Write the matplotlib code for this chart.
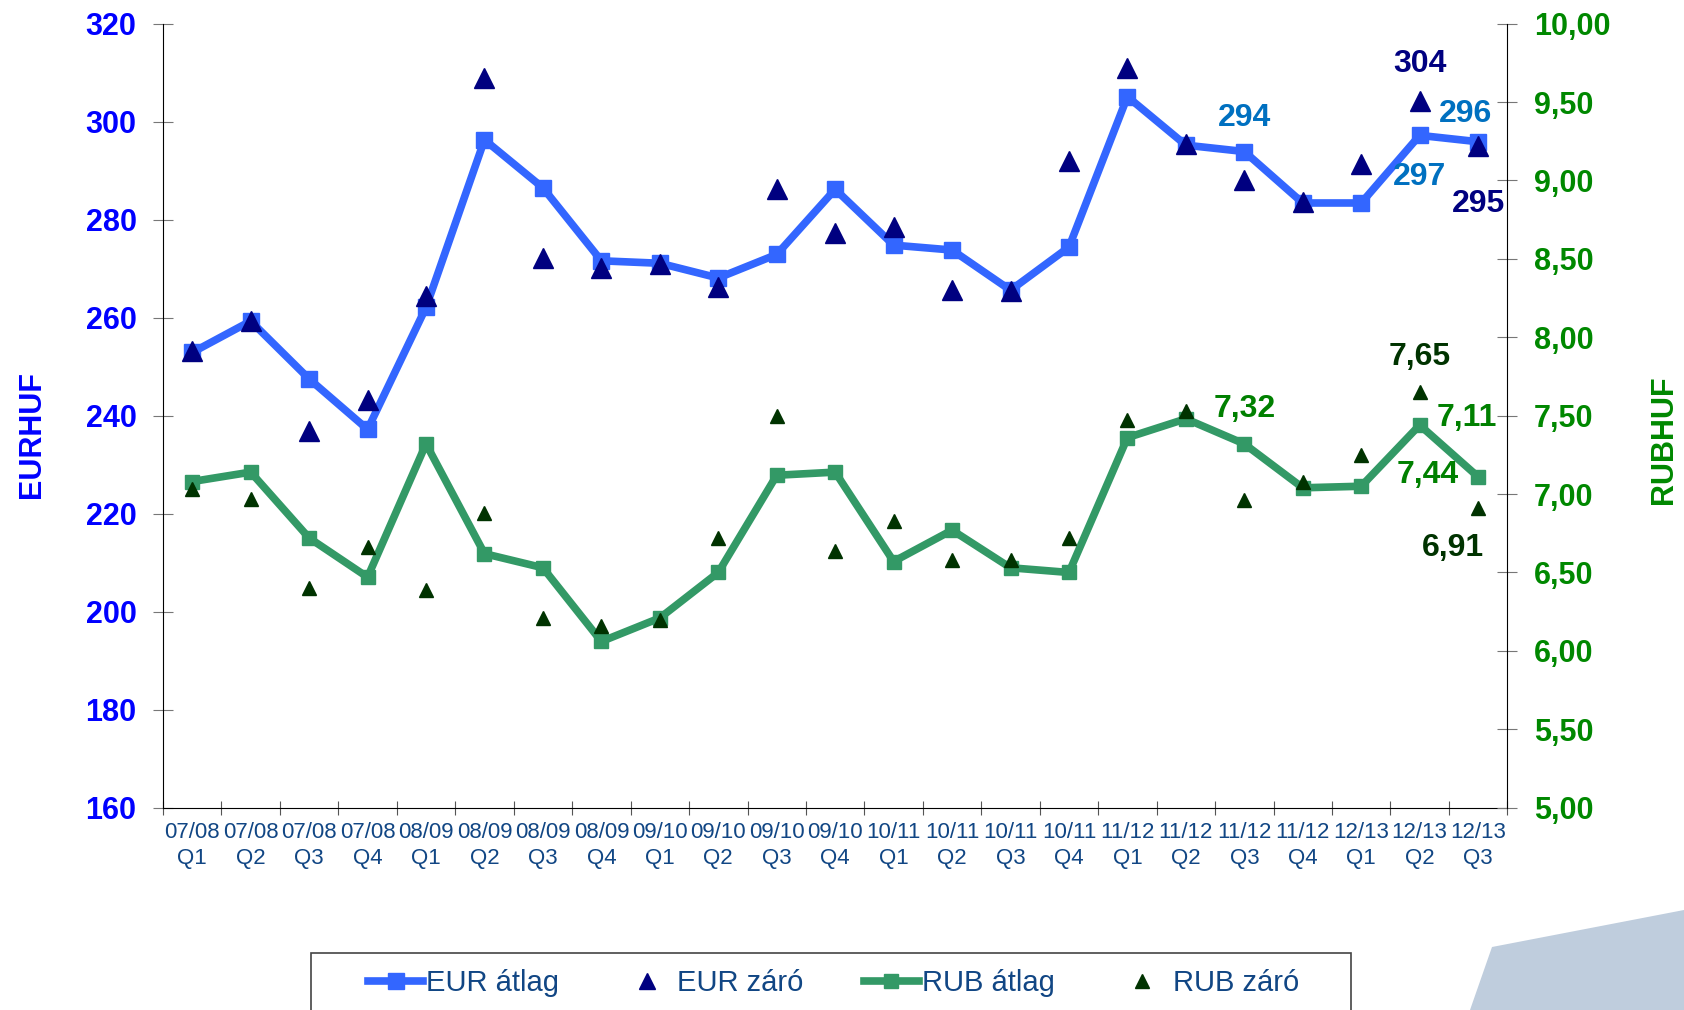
import matplotlib.pyplot as plt
from matplotlib.patches import Polygon, Rectangle
from matplotlib.lines import Line2D

plt.rcParams['font.family'] = ['Liberation Sans', 'DejaVu Sans']

negyedevek = ['07/08\nQ1', '07/08\nQ2', '07/08\nQ3', '07/08\nQ4',
              '08/09\nQ1', '08/09\nQ2', '08/09\nQ3', '08/09\nQ4',
              '09/10\nQ1', '09/10\nQ2', '09/10\nQ3', '09/10\nQ4',
              '10/11\nQ1', '10/11\nQ2', '10/11\nQ3', '10/11\nQ4',
              '11/12\nQ1', '11/12\nQ2', '11/12\nQ3', '11/12\nQ4',
              '12/13\nQ1', '12/13\nQ2', '12/13\nQ3']

eur_atlag = [252.9, 259.3, 247.5, 237.2, 262.1, 296.3, 286.5, 271.6,
             271.1, 268.1, 272.9, 286.2, 274.8, 273.8, 265.6, 274.4,
             305.1, 295.2, 293.9, 283.4, 283.4, 297.2, 295.9]
eur_zaro = [253.2, 259.3, 236.9, 243.1, 264.5, 309.0, 272.2, 270.2,
            270.9, 266.3, 286.2, 277.3, 278.4, 265.6, 265.4, 292.0,
            311.0, 295.5, 288.0, 283.6, 291.3, 304.2, 295.0]
rub_atlag = [7.08, 7.14, 6.72, 6.47, 7.32, 6.62, 6.53, 6.06,
             6.21, 6.50, 7.12, 7.14, 6.57, 6.77, 6.53, 6.50,
             7.36, 7.48, 7.32, 7.04, 7.05, 7.44, 7.11]
rub_zaro = [7.03, 6.97, 6.40, 6.66, 6.39, 6.88, 6.21, 6.16,
            6.20, 6.72, 7.50, 6.64, 6.83, 6.58, 6.58, 6.72,
            7.47, 7.53, 6.96, 7.08, 7.25, 7.65, 6.91]

bal_tickek = [160, 180, 200, 220, 240, 260, 280, 300, 320]
jobb_tickek = [5.0, 5.5, 6.0, 6.5, 7.0, 7.5, 8.0, 8.5, 9.0, 9.5, 10.0]

kek = '#3366FF'
sotetkek = '#000080'
zold = '#339966'
sotetzold = '#003300'
tengelykek = '#0000FF'
tengelyzold = '#008800'
feliratkek = '#114684'

fig = plt.figure(figsize=(16.84, 10.10), dpi=100)
ax = fig.add_axes([0.0968, 0.2003, 0.7983, 0.7763])
ax2 = ax.twinx()

x = list(range(len(negyedevek)))

ax.plot(x, eur_atlag, color=kek, linewidth=5.5, marker='s', markersize=11,
        zorder=3)
ax.plot(x, eur_zaro, linestyle='none', marker='^', markersize=15,
        color=sotetkek, zorder=4)
ax2.plot(x, rub_atlag, color=zold, linewidth=5.5, marker='s', markersize=10,
         zorder=3)
ax2.plot(x, rub_zaro, linestyle='none', marker='^', markersize=10,
         color=sotetzold, zorder=4)

ax.set_xlim(-0.5, len(negyedevek) - 0.5)
ax.set_ylim(160, 320)
ax2.set_ylim(5, 10)

# x tengely: vonalak a negyedevek hataran, felirat kozepen
ax.set_xticks([i - 0.5 for i in range(len(negyedevek) + 1)])
ax.set_xticklabels([])
ax.set_xticks(x, minor=True)
ax.set_xticklabels(negyedevek, minor=True, fontsize=16, color=feliratkek,
                   linespacing=1.35)
ax.tick_params(axis='x', which='major', direction='inout', length=9.5,
               color='#555555')
ax.tick_params(axis='x', which='minor', length=0, pad=10)

ax.set_yticks(bal_tickek)
ax.set_yticklabels([str(t) for t in bal_tickek], fontsize=22,
                   fontweight='bold', color=tengelykek)
ax.tick_params(axis='y', direction='inout', length=14, pad=12,
               color='#777777')

ax2.set_yticks(jobb_tickek)
ax2.set_yticklabels([f'{t:.2f}'.replace('.', ',') for t in jobb_tickek],
                    fontsize=22, fontweight='bold', color=tengelyzold)
ax2.tick_params(axis='y', direction='inout', length=14, pad=12,
                color='#777777')

ax.set_ylabel('EURHUF', fontsize=22, fontweight='bold', color=tengelykek)
ax.yaxis.set_label_coords(-0.086, 0.476)
ax2.set_ylabel('RUBHUF', fontsize=22, fontweight='bold', color=tengelyzold)
ax2.yaxis.set_label_coords(1.105, 0.469)

for a in (ax, ax2):
    a.spines['top'].set_visible(False)
ax.spines['right'].set_visible(False)
ax2.spines['left'].set_visible(False)
ax2.spines['bottom'].set_visible(False)

# cimkek az utolso pontoknal
cimkek = [
    (ax, 18, eur_atlag[18], '294', '#0070C0', (0, 24)),
    (ax, 21, eur_atlag[21], '297', '#0070C0', (0, -30)),
    (ax, 22, eur_atlag[22], '296', '#0070C0', (-9, 20)),
    (ax, 21, eur_zaro[21], '304', sotetkek, (0, 27)),
    (ax, 22, eur_zaro[22], '295', sotetkek, (0, -42)),
    (ax2, 18, rub_atlag[18], '7,32', '#008000', (0, 25)),
    (ax2, 21, rub_atlag[21], '7,44', '#008000', (6, -36)),
    (ax2, 22, rub_atlag[22], '7,11', '#008000', (-8, 42)),
    (ax2, 21, rub_zaro[21], '7,65', sotetzold, (0, 25)),
    (ax2, 22, rub_zaro[22], '6,91', sotetzold, (-18, -29)),
]
for a, xi, yi, szoveg, szin, eltolas in cimkek:
    a.annotate(szoveg, (xi, yi), xytext=eltolas, textcoords='offset points',
               ha='center', va='center', fontsize=23, fontweight='bold',
               color=szin, zorder=5)

# jelmagyarazat keret
fig.patches.append(Rectangle((311 / 1684, -0.05), (1351 - 311) / 1684,
                             0.05 + 1 - 953 / 1010, transform=fig.transFigure,
                             facecolor='white', edgecolor='#444444',
                             linewidth=1.2, zorder=1))

kezelok = [
    Line2D([], [], color=kek, linewidth=5.5, marker='s', markersize=11),
    Line2D([], [], linestyle='none', marker='^', markersize=12, color=sotetkek),
    Line2D([], [], color=zold, linewidth=5.5, marker='s', markersize=10),
    Line2D([], [], linestyle='none', marker='^', markersize=10, color=sotetzold),
]
nevek = ['EUR átlag', 'EUR záró', 'RUB átlag', 'RUB záró']
leg = fig.legend(kezelok, nevek, loc='center left',
                 bbox_to_anchor=(368 / 1684, 1 - 983 / 1010), ncol=4,
                 fontsize=21, frameon=False, handlelength=1.9,
                 handletextpad=0.1, columnspacing=2.05, borderpad=0,
                 borderaxespad=0)
leg.set_zorder(2)
for t in leg.get_texts():
    t.set_color(feliratkek)

# dekoracio a jobb also sarokban
fig.patches.append(Polygon([(1492 / 1684, 1 - 947 / 1010), (1.0, 1 - 910 / 1010),
                            (1.0, 0.0), (1470 / 1684, 0.0)],
                           closed=True, transform=fig.transFigure,
                           facecolor='#BFCDDD', edgecolor='none', zorder=0))

fig.savefig('out.png', dpi=100)
